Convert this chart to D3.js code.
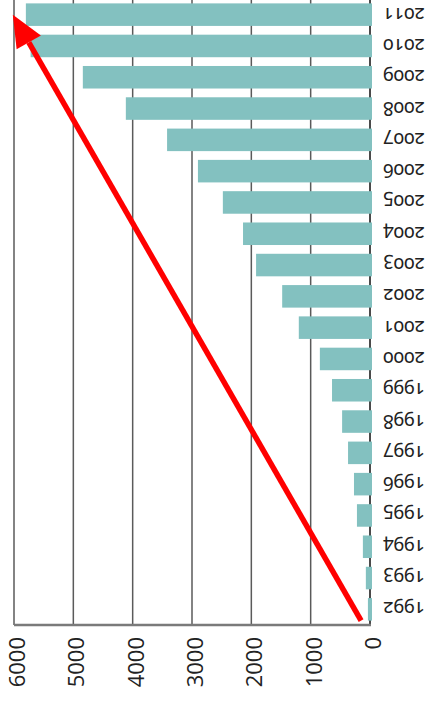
<!DOCTYPE html>
<html>
<head>
  <meta charset='utf-8'/>
  <style>
body { margin: 0; background: #fff; }
.grid line { stroke: #5a5a5a; stroke-width: 1.5px; }
.year { font: 19px "Noto Sans", sans-serif; font-variant-numeric: oldstyle-nums; fill: #222; }
.tick-label { font: 22px "Open Sans", sans-serif; fill: #222; }
  </style>
  <script src="https://d3js.org/d3.v7.min.js"></script>
</head>
<body>
<svg width="432" height="702"></svg>
<script>

var years = [1992, 1993, 1994, 1995, 1996, 1997, 1998, 1999, 2000, 2001,
             2002, 2003, 2004, 2005, 2006, 2007, 2008, 2009, 2010, 2011];
var values = [35, 70, 120, 220, 270, 370, 470, 640, 845, 1200,
              1480, 1920, 2140, 2480, 2900, 3420, 4115, 4840, 5720, 5800];
var ticks = [0, 1000, 2000, 3000, 4000, 5000, 6000];

var svg = d3.select("svg"),
    plotLeft = 14, plotRight = 370, plotTop = -1, plotBottom = 625;

// value axis runs right to left, years run bottom to top
var x = d3.scaleLinear().domain([0, 6000]).range([plotRight, plotLeft]);
var y = d3.scaleBand().domain(years).range([plotBottom, plotTop]).paddingInner(0.28).paddingOuter(0.14);

var grid = svg.append("g").attr("class", "grid");
grid.selectAll("line")
  .data(ticks.filter(function(d) { return d > 0; }))
  .enter().append("line")
    .attr("x1", function(d) { return x(d); })
    .attr("x2", function(d) { return x(d); })
    .attr("y1", 0)
    .attr("y2", plotBottom);

// zero line
svg.append("line")
    .attr("x1", x(0)).attr("x2", x(0))
    .attr("y1", 0).attr("y2", plotBottom)
    .attr("stroke", "#4a4a4a").attr("stroke-width", 2);

svg.selectAll("rect.bar")
  .data(years)
  .enter().append("rect")
    .attr("class", "bar")
    .attr("x", function(d, i) { return x(values[i]); })
    .attr("y", function(d) { return y(d); })
    .attr("width", function(d, i) { return x(0) - x(values[i]) + 2; })
    .attr("height", y.bandwidth())
    .attr("fill", "#83c1c0");

// bottom axis line
svg.append("line")
    .attr("x1", plotLeft).attr("x2", x(0) + 1)
    .attr("y1", plotBottom).attr("y2", plotBottom)
    .attr("stroke", "#7a7a7a").attr("stroke-width", 2.5);

// year labels, turned upside down
svg.selectAll("text.year")
  .data(years)
  .enter().append("text")
    .attr("class", "year")
    .attr("text-anchor", "middle")
    .attr("dominant-baseline", "central")
    .attr("transform", function(d) {
      return "translate(404," + (y(d) + y.bandwidth() / 2) + ") rotate(180)";
    })
    .text(function(d) { return d; });

// value tick labels, reading bottom to top
svg.selectAll("text.tick-label")
  .data(ticks)
  .enter().append("text")
    .attr("class", "tick-label")
    .attr("text-anchor", "end")
    .attr("dominant-baseline", "central")
    .attr("transform", function(d) { return "translate(" + (x(d) + 2) + ",637) rotate(-90)"; })
    .text(function(d) { return d; });

// red arrow annotation
var arrowFrom = [150, 1992], arrowTo = [6020, 2011];
var x0 = x(arrowFrom[0]), y0 = y(arrowFrom[1]) + y.bandwidth(),
    x1 = x(arrowTo[0]), y1 = y(arrowTo[1]) + y.bandwidth() / 2;
var ang = Math.atan2(y1 - y0, x1 - x0),
    headLen = 32, headW = 14;
var bx = x1 - headLen * Math.cos(ang), by = y1 - headLen * Math.sin(ang);

svg.append("line")
    .attr("x1", x0).attr("y1", y0)
    .attr("x2", bx).attr("y2", by)
    .attr("stroke", "#ff0000").attr("stroke-width", 5.5);

svg.append("path")
    .attr("d", d3.line()([
      [x1, y1],
      [bx + headW * Math.sin(ang), by - headW * Math.cos(ang)],
      [bx - headW * Math.sin(ang), by + headW * Math.cos(ang)]
    ]))
    .attr("fill", "#ff0000");

</script>
</body>
</html>
